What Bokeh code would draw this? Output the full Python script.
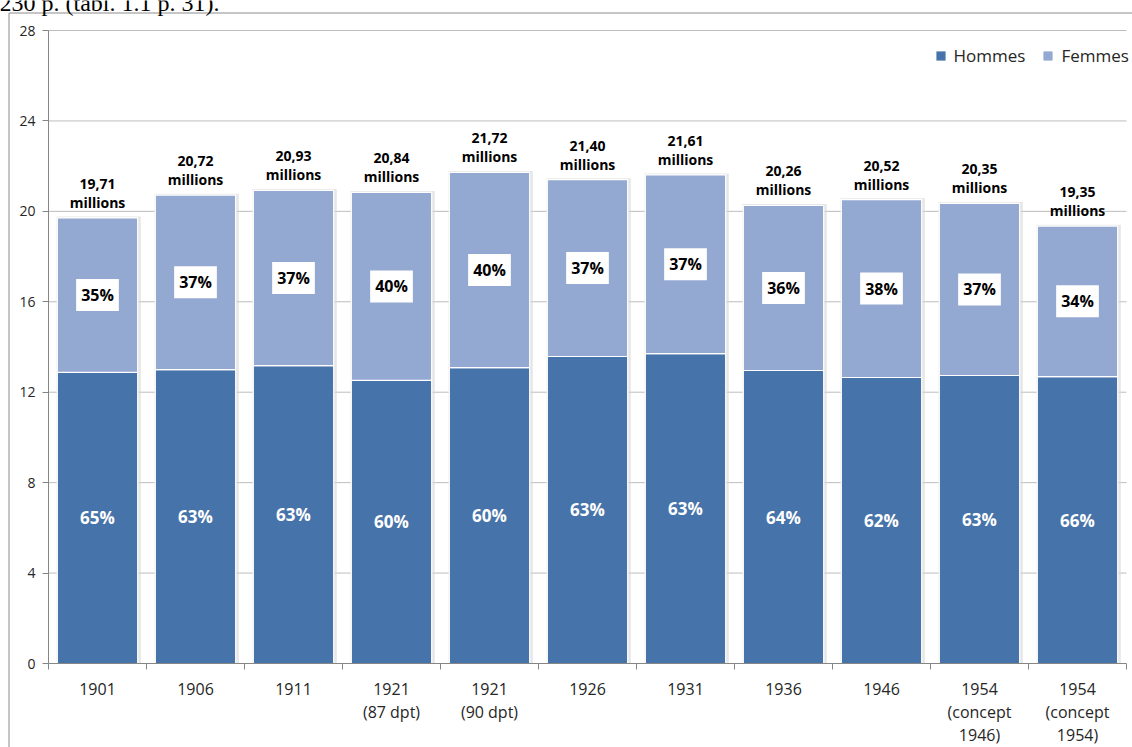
from bokeh.plotting import figure
from bokeh.models import (Range1d, FixedTicker, ColumnDataSource, Legend, LegendItem)
from bokeh.core.properties import value
from bokeh.embed import file_html
from bokeh.resources import INLINE

# ---- data ----
categories = ["1901", "1906", "1911", "1921\n(87 dpt)", "1921\n(90 dpt)", "1926", "1931",
              "1936", "1946", "1954\n(concept\n1946)", "1954\n(concept\n1954)"]
hommes = [12.88, 13.00, 13.18, 12.52, 13.09, 13.58, 13.71, 12.96, 12.65, 12.74, 12.69]
femmes = [6.83, 7.72, 7.75, 8.32, 8.63, 7.82, 7.90, 7.30, 7.87, 7.61, 6.66]
total_labels = ["19,71", "20,72", "20,93", "20,84", "21,72", "21,40", "21,61",
                "20,26", "20,52", "20,35", "19,35"]
pct_hommes = ["65%", "63%", "63%", "60%", "60%", "63%", "63%", "64%", "62%", "63%", "66%"]
pct_femmes = ["35%", "37%", "37%", "40%", "40%", "37%", "37%", "36%", "38%", "37%", "34%"]
y_ticks = [0, 4, 8, 12, 16, 20, 24, 28]
series_names = ["Hommes", "Femmes"]
source_note = "230 p. (tabl. 1.1 p. 31)."

# ---- layout (pixels) ----
W, H = 1132, 747
X0_PX, X_STEP = 48, 98.0          # left of plot area, width of one category
Y0_PX, Y_TOP_PX = 663, 30         # value 0 and value 28
Y_STEP = (Y0_PX - Y_TOP_PX) / 28.0


def px2x(px):
    return (px - X0_PX) / X_STEP


def py2y(py):
    return (Y0_PX - py) / Y_STEP


C_H = "#4673A9"
C_F = "#93A9D1"
FONT = "Open Sans"
TXT = "#262626"
AX = "#868686"

n = len(categories)
xc = [i + 0.5 for i in range(n)]
totals = [h + f for h, f in zip(hommes, femmes)]

src = ColumnDataSource(dict(
    x=xc, xs=[x + 0.012 for x in xc], hommes=hommes, femmes=femmes, total=totals,
    ymid_h=[h / 2 for h in hommes],
    ymid_f=[h + f / 2 for h, f in zip(hommes, femmes)],
    shadow_top=[t + 0.06 for t in totals],
    tot_lab=[t + "\nmillions" for t in total_labels],
    ph=pct_hommes, pf=pct_femmes,
))

p = figure(width=W, height=H,
           x_range=Range1d(px2x(0), px2x(W)), y_range=Range1d(py2y(H), py2y(0)),
           output_backend="svg", toolbar_location=None,
           min_border_left=0, min_border_right=0, min_border_top=0, min_border_bottom=0)
p.outline_line_color = None
p.background_fill_color = "white"
p.border_fill_color = "white"
p.xgrid.visible = False
p.ygrid.visible = False

# horizontal gridlines over the plot area only
gy = [t for t in y_ticks if t > 0]
p.segment(x0=[0] * len(gy), x1=[n] * len(gy), y0=gy, y1=gy,
          line_color="#bdbdbd", line_width=1)

# y axis
p.yaxis.fixed_location = 0
p.yaxis.bounds = (0, 28)
p.yaxis.ticker = FixedTicker(ticks=y_ticks)
p.yaxis.axis_line_color = AX
p.yaxis.major_tick_line_color = AX
p.yaxis.major_tick_out = 6
p.yaxis.major_tick_in = 0
p.yaxis.minor_tick_line_color = None
p.yaxis.major_label_standoff = 7
p.yaxis.major_label_text_font = FONT
p.yaxis.major_label_text_font_size = "14px"
p.yaxis.major_label_text_color = TXT

# x axis: labels at centres, tick marks at category boundaries
p.xaxis.fixed_location = 0
p.xaxis.bounds = (0, n)
p.xaxis.ticker = FixedTicker(ticks=xc, minor_ticks=list(range(n + 1)))
p.xaxis.major_label_overrides = {x: c for x, c in zip(xc, categories)}
p.xaxis.axis_line_color = AX
p.xaxis.major_tick_line_color = None
p.xaxis.major_tick_out = 0
p.xaxis.major_tick_in = 0
p.xaxis.minor_tick_line_color = AX
p.xaxis.minor_tick_out = 6
p.xaxis.minor_tick_in = 0
p.xaxis.major_label_standoff = 8
p.xaxis.major_label_text_font = FONT
p.xaxis.major_label_text_font_size = "16px"
p.xaxis.major_label_text_color = TXT
p.xaxis.major_label_text_line_height = 1.05

# soft shadow behind the bars
p.vbar(x="xs", width=0.86, bottom=0, top="shadow_top", source=src,
       fill_color="#d6d6d6", fill_alpha=0.6, line_color=None)

# stacked bars
p.vbar(x="x", width=0.82, bottom=0, top="hommes", source=src,
       fill_color=C_H, line_color="white", line_width=1.2)
p.vbar(x="x", width=0.82, bottom="hommes", top="total", source=src,
       fill_color=C_F, line_color="white", line_width=1.2)

# labels
p.text(x="x", y="ymid_h", text="ph", source=src, text_font=value(FONT),
       text_font_size="17px", text_font_style="bold", text_color="white",
       text_align="center", text_baseline="middle")
p.text(x="x", y="ymid_f", text="pf", source=src, text_font=value(FONT),
       text_font_size="16px", text_font_style="bold", text_color="black",
       text_align="center", text_baseline="middle",
       background_fill_color="white", padding=5)
p.text(x="x", y="total", text="tot_lab", source=src, text_font=value(FONT),
       text_font_size="14px", text_font_style="bold", text_color="black",
       text_align="center", text_baseline="bottom", y_offset=-6,
       text_line_height=1.0)

# outer chart border (cropped in the reference)
bx, by = px2x(8.5), py2y(12.5)
p.line(x=[bx, bx, px2x(W + 5)], y=[py2y(H + 5), by, by],
       line_color="#8c8c8c", line_width=1)

# cropped source note at the very top (its upper part lies above the page)
p.text(x=[px2x(-1)], y=[py2y(2)], text=[source_note],
       text_font=value("Liberation Serif"), text_font_size="24px",
       text_color="black", text_align="left", text_baseline="alphabetic")

# legend (legend-only markers, no visible data)
rh = p.scatter(x=[float("nan")], y=[float("nan")], marker="square", size=9,
               fill_color=C_H, line_color=None)
rf = p.scatter(x=[float("nan")], y=[float("nan")], marker="square", size=9,
               fill_color=C_F, line_color=None)
legend = Legend(items=[LegendItem(label=series_names[0], renderers=[rh]),
                       LegendItem(label=series_names[1], renderers=[rf])],
                location=(928.5, H - 67), orientation="horizontal",
                glyph_width=23, glyph_height=23, label_height=23,
                label_standoff=2, spacing=11, padding=0, margin=0,
                border_line_color=None, background_fill_alpha=0,
                label_text_font=FONT, label_text_font_size="17px",
                label_text_color=TXT)
p.add_layout(legend)

open("out.html", "w").write(file_html(p, INLINE))
